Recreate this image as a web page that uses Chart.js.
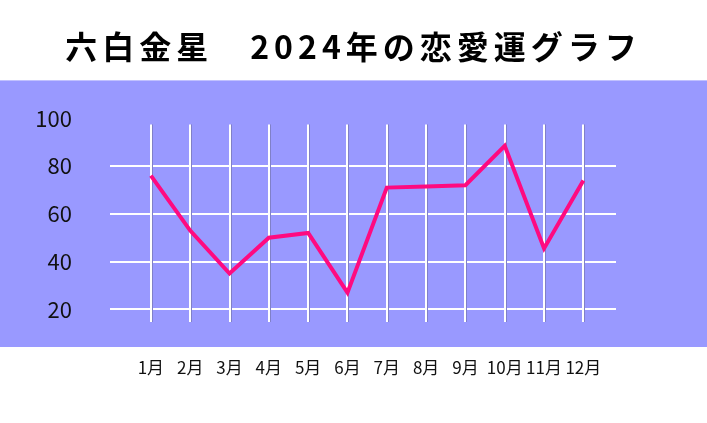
<!DOCTYPE html>
<html>
  <head>
    <meta charset="utf-8">
    <title>六白金星 2024年の恋愛運グラフ</title>
    <script src="https://cdn.jsdelivr.net/npm/chart.js@4.4.1/dist/chart.umd.min.js"></script>
    <style>
      html, body { margin: 0; padding: 0; background: #fff; }
      #wrap { width: 707px; height: 423px; }
    </style>
  </head>
  <body>
    <div id="wrap">
      <canvas id="canvas"></canvas>
    </div>
    <script>
      const titleText = '六白金星　2024年の恋愛運グラフ';
      const months = ['1月', '2月', '3月', '4月', '5月', '6月', '7月', '8月', '9月', '10月', '11月', '12月'];
      const loveLuck = [76, 53, 35, 50, 52, 27, 71, 71.5, 72, 88.5, 45.5, 74];
      const yTicks = [20, 40, 60, 80, 100];

      const FONT = '"Noto Sans CJK JP", "Noto Sans", sans-serif';

      // purple band behind the plot and the vertical grid lines
      const backdrop = {
        id: 'backdrop',
        beforeDraw(chart) {
          const { ctx, chartArea } = chart;
          ctx.save();
          ctx.fillStyle = '#9999ff';
          ctx.fillRect(0, chartArea.top - 38, chart.width, chartArea.bottom - chartArea.top + 28);
          ctx.restore();
        },
        beforeDatasetsDraw(chart) {
          const { ctx, chartArea, scales } = chart;
          const top = chartArea.top + 6;
          const bottom = chartArea.bottom - 35;
          ctx.save();
          months.forEach((m, i) => {
            const x = Math.round(scales.x.getPixelForValue(i + 1));
            ctx.strokeStyle = '#8080c8';
            ctx.lineWidth = 1;
            ctx.beginPath();
            ctx.moveTo(x + 1.5, top);
            ctx.lineTo(x + 1.5, bottom);
            ctx.stroke();
            ctx.strokeStyle = '#ffffff';
            ctx.lineWidth = 2;
            ctx.beginPath();
            ctx.moveTo(x, top);
            ctx.lineTo(x, bottom);
            ctx.stroke();
          });
          ctx.restore();
        }
      };

      // wider letter spacing for the title only
      const titleSpacing = {
        id: 'titleSpacing',
        beforeDraw(chart) {
          const t = chart.titleBlock;
          if (t && !t._spaced) {
            const orig = t.draw;
            t.draw = function (...args) {
              const c = this.ctx;
              const prev = c.letterSpacing;
              c.letterSpacing = '5px';
              orig.apply(this, args);
              c.letterSpacing = prev;
            };
            t._spaced = true;
          }
        }
      };

      const chart = new Chart(document.getElementById('canvas'), {
        type: 'line',
        data: {
          datasets: [{
            label: '恋愛運',
            data: loveLuck.map((v, i) => ({ x: i + 1, y: v })),
            borderColor: '#ff0a80',
            borderWidth: 4,
            pointRadius: 0,
            tension: 0,
            borderJoinStyle: 'miter'
          }]
        },
        options: {
          responsive: true,
          maintainAspectRatio: false,
          animation: false,
          layout: { padding: { left: 0, right: 0, top: 0, bottom: 42 } },
          plugins: {
            legend: { display: false },
            tooltip: { enabled: false },
            title: {
              display: true,
              text: titleText,
              color: '#000',
              font: { family: FONT, size: 32, weight: 'bold' },
              padding: { top: 28, bottom: 52 }
            }
          },
          scales: {
            x: {
              type: 'linear',
              min: -0.04,
              max: 12.83,
              afterBuildTicks(scale) {
                scale.ticks = months.map((m, i) => ({ value: i + 1 }));
              },
              afterFit(scale) { scale.height = 24; },
              grid: { display: false, drawTicks: false },
              border: { display: false },
              ticks: {
                autoSkip: false,
                maxRotation: 0,
                padding: 0,
                color: '#111',
                font: { family: FONT, size: 17 },
                callback: (v) => months[v - 1]
              }
            },
            y: {
              min: 0,
              max: 100,
              afterBuildTicks(scale) {
                scale.ticks = yTicks.map(v => ({ value: v }));
              },
              afterFit(scale) { scale.width = 110; },
              grid: {
                drawTicks: false,
                lineWidth: 2,
                color: (c) => (c.tick && c.tick.value < 100 ? '#ffffff' : 'rgba(0,0,0,0)')
              },
              border: { display: false },
              ticks: {
                padding: 38,
                color: '#111',
                font: { family: FONT, size: 22 }
              }
            },
            yRight: {
              position: 'right',
              min: 0,
              max: 100,
              afterFit(scale) { scale.width = 91; },
              grid: { display: false, drawTicks: false },
              border: { display: false },
              ticks: { display: false }
            }
          }
        },
        plugins: [backdrop, titleSpacing]
      });
    </script>
  </body>
</html>
